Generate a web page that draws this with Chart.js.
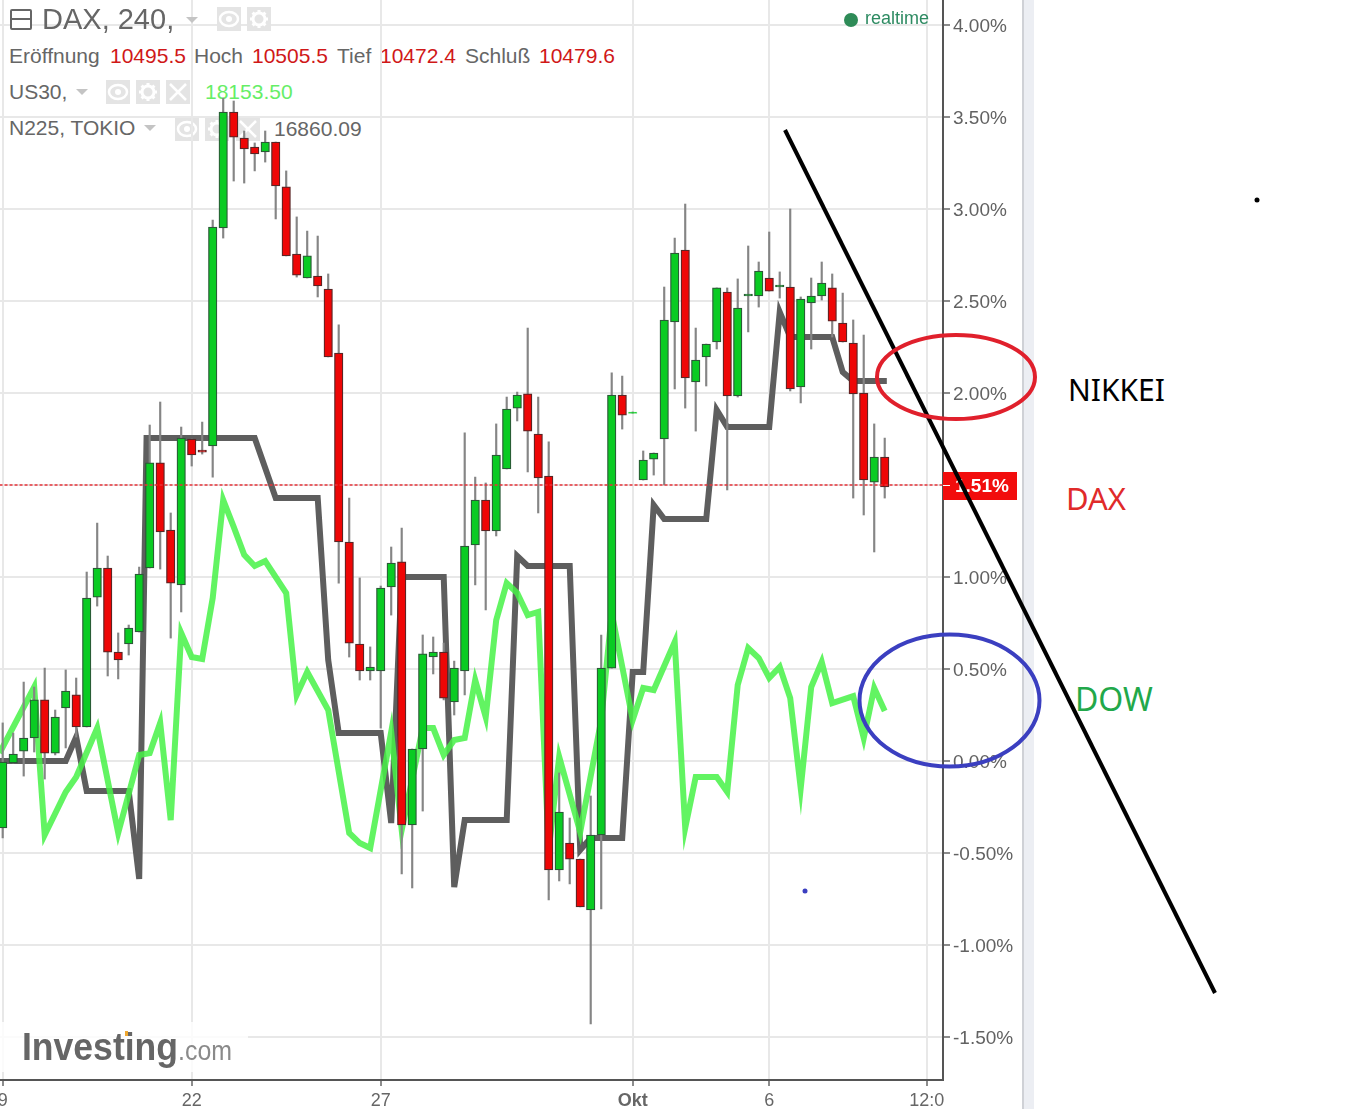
<!DOCTYPE html>
<html>
<head>
<meta charset="utf-8">
<title>DAX, US30, N225</title>
<script src="https://cdn.jsdelivr.net/npm/chart.js@4"></script>
<style>
    body { margin: 0; background: #fff; font-family: "Liberation Sans", Arial, sans-serif; }
    #wrap { position: relative; width: 1357px; height: 1109px; overflow: hidden; }
    #chart { position: absolute; left: 0; top: 0; z-index: 1; }
    #top { position: absolute; left: 0; top: 0; z-index: 2; }
    .t { position: absolute; white-space: nowrap; line-height: 1; color: #666; font-size: 21px; }
    .red { color: #d01818; }
    .note { font-family: "Noto Sans", sans-serif; font-size: 31px; }
    .tile { position: absolute; width: 24px; height: 24px; background: #e4e4e4; }
    .arrow { position: absolute; width: 0; height: 0; border: 6px solid transparent; border-top: 6px solid #c4c4c4; border-bottom: 0; }
</style>
</head>
<body>
<div id="wrap">
    <div id="header"></div>
    <canvas id="chart" width="1357" height="1109"></canvas>
    <div id="top"></div>
</div>
<script>
// DAX 240 candles, values in percent
const opens = [-0.364,-0.011,0.054,0.125,0.332,0.043,0.288,0.359,0.185,0.891,1.049,0.592,0.636,0.701,1.049,1.620,1.255,0.957,1.750,1.690,1.712,2.897,3.527,3.386,3.337,3.310,3.364,3.120,2.755,2.625,2.636,2.565,2.217,1.190,0.636,0.489,0.489,0.946,1.082,-0.348,0.065,0.565,0.592,0.321,0.489,1.174,1.418,1.250,1.587,1.918,1.995,1.777,1.549,-0.592,-0.446,-0.533,-0.810,-0.402,0.505,1.989,1.889,1.527,1.641,1.750,2.386,2.777,2.060,2.196,2.277,2.549,1.984,2.527,2.527,2.625,2.576,2.576,2.033,2.489,2.527,2.571,2.380,2.272,2.000,1.516,1.652];
const highs = [0.207,0.152,0.429,0.402,0.505,0.277,0.495,0.451,1.027,1.293,1.114,0.696,0.739,1.054,1.826,1.951,1.348,1.815,1.750,1.842,2.940,3.603,3.587,3.424,3.359,3.424,3.364,3.207,2.957,2.880,2.853,2.647,2.370,1.429,0.995,0.620,0.951,1.163,1.266,0.065,0.685,0.674,0.641,0.543,1.783,1.543,1.511,1.832,1.978,2.005,2.353,1.978,1.734,-0.065,-0.310,-0.533,-0.190,0.685,2.109,2.092,1.897,1.685,1.674,2.576,2.842,3.027,2.353,2.266,2.571,2.571,2.620,2.799,2.712,2.875,2.658,3.000,2.522,2.625,2.712,2.647,2.543,2.397,2.315,1.832,1.755];
const lows = [-0.418,-0.011,-0.082,0.049,-0.098,0.033,0.071,0.130,0.185,0.842,0.462,0.446,0.576,0.701,1.049,1.043,0.668,0.810,1.603,1.668,1.543,2.842,3.152,3.141,3.207,3.255,2.946,2.745,2.630,2.625,2.522,2.196,0.967,0.565,0.440,0.440,0.179,0.793,-0.614,-0.690,-0.272,0.473,0.332,0.250,0.359,0.957,0.821,1.223,1.587,1.848,1.571,1.348,-0.755,-0.652,-0.668,-0.793,-1.429,-0.804,0.505,1.804,1.889,1.527,1.554,1.500,2.022,1.918,1.793,2.038,2.239,1.473,1.978,2.332,2.467,2.554,2.516,2.011,1.946,2.239,2.505,2.304,2.277,1.429,1.337,1.136,1.429];
const closes = [0,0.038,0.125,0.332,0.043,0.239,0.380,0.185,0.886,1.049,0.592,0.549,0.723,1.016,1.620,1.245,0.967,1.755,1.663,1.679,2.902,3.527,3.391,3.326,3.299,3.364,3.125,2.745,2.641,2.745,2.582,2.196,1.190,0.641,0.489,0.511,0.940,1.076,-0.348,0.065,0.582,0.592,0.342,0.505,1.168,1.418,1.250,1.663,1.913,1.989,1.793,1.538,-0.592,-0.277,-0.533,-0.793,-0.402,0.505,1.989,1.880,1.897,1.636,1.674,2.397,2.761,2.082,2.179,2.266,2.571,1.984,2.462,2.538,2.663,2.554,2.587,2.022,2.511,2.527,2.598,2.391,2.277,1.995,1.527,1.652,1.489];

// Nikkei and Dow lines, one entry per turning point, x is the candle index
const nikkeiIdx = [-0.3,6,7,8,12,13,13.7,24,26,30,31,32,36,37,38,42,43,44,48,49,50,54,55,56,59,60,61,62,63,67,68,69,73,74,75,79,80,81,84.2];
const nikkeiPct = [0,0,0.130,-0.163,-0.163,-0.641,1.755,1.755,1.429,1.429,0.549,0.152,0.152,-0.337,1.000,1.000,-0.685,-0.321,-0.321,1.114,1.060,1.060,-0.484,-0.418,-0.418,0.484,0.484,1.391,1.315,1.315,1.908,1.815,1.815,2.440,2.304,2.304,2.114,2.065,2.065];
const dowIdx = [-0.3,3,4,6,7,9,11,13,14,15,16,17,18,19,20,21,22,23,24,25,27,28,29,31,33,34,35,37,38,40,41,42,43,44,45,46,47,48,49,50,51,52,53,55,57,58,60,61,62,64,65,66,68,69,70,71,72,73,74,75,76,77,78,79,81,82,83,84];
const dowPct = [0.043,0.402,-0.402,-0.168,-0.087,0.179,-0.391,0.033,0.043,0.207,-0.321,0.696,0.565,0.554,0.886,1.418,1.272,1.120,1.060,1.087,0.913,0.359,0.484,0.277,-0.391,-0.446,-0.473,0.158,-0.375,0.179,0.179,0.033,0.114,0.125,0.440,0.239,0.766,0.967,0.913,0.793,0.810,-0.484,0.022,-0.386,0.223,0.804,0.223,0.397,0.386,0.647,-0.364,-0.087,-0.087,-0.168,0.413,0.614,0.560,0.451,0.511,0.342,-0.147,0.402,0.538,0.315,0.353,0.125,0.397,0.272];

// x axis
const xTickIdx = [0, 18, 36, 60, 73, 88];
const xTickLabels = ['9', '22', '27', 'Okt', '6', '12:0'];

const lastLevel = 1.5;
const lastLabel = '1.51%';

const upFill = '#0acb23', upEdge = '#2a5a36';
const downFill = '#ee0606', downEdge = '#5a2525';
const oddTick = 60; // the little light green dash, no edge on it

function addText(text, x, cy, size, color, cls, layer) {
    const el = document.createElement('div');
    el.className = 't ' + (cls || '');
    el.textContent = text;
    el.style.left = x + 'px';
    el.style.top = (cy - size / 2) + 'px';
    el.style.fontSize = size + 'px';
    if (color) el.style.color = color;
    document.getElementById(layer || 'header').appendChild(el);
}

const icons = {
    eye: '<svg width="24" height="24"><ellipse cx="12" cy="12" rx="9" ry="7" fill="none" stroke="#fff" stroke-width="2.5"/><circle cx="12" cy="12" r="3" fill="#fff"/></svg>',
    gear: '<svg width="24" height="24"><circle cx="12" cy="12" r="6" fill="none" stroke="#fff" stroke-width="3"/><path d="M12 3v4M12 17v4M3 12h4M17 12h4M5.6 5.6l3 3M15.4 15.4l3 3M5.6 18.4l3-3M15.4 8.6l3-3" stroke="#fff" stroke-width="3"/></svg>',
    close: '<svg width="24" height="24"><path d="M4 4L20 20M20 4L4 20" stroke="#fff" stroke-width="2.5"/></svg>'
};

function addTile(kind, x, y, layer) {
    const el = document.createElement('div');
    el.className = 'tile';
    el.style.left = x + 'px';
    el.style.top = y + 'px';
    el.innerHTML = icons[kind];
    document.getElementById(layer || 'header').appendChild(el);
}

function addArrow(x, y, layer) {
    const el = document.createElement('div');
    el.className = 'arrow';
    el.style.left = x + 'px';
    el.style.top = y + 'px';
    document.getElementById(layer || 'header').appendChild(el);
}

function buildHeader() {
    // first row sits over the grid, the rest under the candles
    const box = document.createElement('div');
    box.style.cssText = 'position:absolute;left:10px;top:9px;width:18px;height:17px;background:#fff;border:2px solid #666;border-radius:2px;';
    box.innerHTML = '<div style="margin-top:7px;height:2px;background:#666"></div>';
    document.getElementById('top').appendChild(box);

    addText('DAX, 240,', 42, 19, 29, null, null, 'top');
    addArrow(186, 17, 'top');
    addTile('eye', 217, 7, 'top');
    addTile('gear', 247, 7, 'top');

    addText('Eröffnung', 9, 55, 21);
    addText('10495.5', 110, 55, 21, null, 'red');
    addText('Hoch', 194, 55, 21);
    addText('10505.5', 252, 55, 21, null, 'red');
    addText('Tief', 337, 55, 21);
    addText('10472.4', 380, 55, 21, null, 'red');
    addText('Schluß', 465, 55, 21);
    addText('10479.6', 539, 55, 21, null, 'red');

    addText('US30,', 9, 91, 21);
    addArrow(76, 89);
    addTile('eye', 106, 80);
    addTile('gear', 136, 80);
    addTile('close', 166, 80);
    addText('18153.50', 205, 91, 21, '#66ee66');

    addText('N225, TOKIO', 9, 127, 21);
    addArrow(144, 125);
    addTile('eye', 175, 117);
    addTile('gear', 205, 117);
    addTile('close', 236, 117);
    addText('16860.09', 274, 128, 21);

    // realtime marker
    const dot = document.createElement('div');
    dot.style.cssText = 'position:absolute;left:844px;top:13px;width:14px;height:14px;border-radius:50%;background:#2e8b57;';
    document.getElementById('top').appendChild(dot);
    addText('realtime', 865, 18, 18, '#2e8b62', null, 'top');

    // hand written names on the right
    addText('NIKKEI', 1068, 390, 30, '#000', 'note');
    addText('DAX', 1066, 498, 31, '#e02a2a', 'note');
    addText('DOW', 1075, 699, 32, '#22a84a', 'note');
}

// scrollbar strip, logo and the things drawn by hand over the chart
const extras = {
    id: 'extras',
    beforeDraw(chart) {
        const c = chart.ctx;
        c.fillStyle = '#eceef3';
        c.fillRect(1023, 0, 11, 1109);
        c.fillStyle = '#cfd1d6';
        c.fillRect(1022, 0, 2, 1109);
    },
    beforeDatasetsDraw(chart) {
        const c = chart.ctx;
        c.save();
        c.fillStyle = 'rgba(255,255,255,0.8)';
        c.fillRect(0, 1022, 248, 50);
        c.textBaseline = 'alphabetic';
        c.fillStyle = '#666';
        c.font = 'bold 38px "Liberation Sans"';
        c.fillText('Investing', 22, 1060, 156);
        c.fillStyle = '#8a8a8a';
        c.font = '28px "Liberation Sans"';
        c.fillText('.com', 178, 1060, 54);
        c.fillStyle = '#f0a830';
        c.fillRect(125, 1031, 3, 5);
        c.restore();
    },
    afterDraw(chart) {
        const c = chart.ctx;
        const y = chart.scales.y.getPixelForValue(lastLevel);
        c.save();
        // last price tag
        c.fillStyle = '#f20d0d';
        c.fillRect(943, 472, 74, 28);
        c.fillStyle = '#fff';
        c.fillRect(943, y, 7, 1);
        c.font = 'bold 19px "Liberation Sans"';
        c.textBaseline = 'middle';
        c.fillText(lastLabel, 955, 487);
        // drawn on the screenshot afterwards
        c.lineWidth = 4;
        c.strokeStyle = '#000';
        c.beginPath();
        c.moveTo(785, 130);
        c.lineTo(1215, 993);
        c.stroke();
        c.strokeStyle = '#e0202c';
        c.beginPath();
        c.ellipse(956, 377, 79, 42, 0, 0, Math.PI * 2);
        c.stroke();
        c.strokeStyle = '#3b3fc0';
        c.beginPath();
        c.ellipse(949.5, 700.5, 90, 66, 0, 0, Math.PI * 2);
        c.stroke();
        c.fillStyle = '#3b3fc0';
        c.beginPath();
        c.arc(805, 891, 2.5, 0, Math.PI * 2);
        c.fill();
        c.fillStyle = '#000';
        c.beginPath();
        c.arc(1257, 200, 2.5, 0, Math.PI * 2);
        c.fill();
        c.restore();
    }
};

function createChart() {
    const wickData = opens.map((o, i) => ({ x: i, y: [lows[i], highs[i]] }));
    const bodyData = opens.map((o, i) => ({ x: i, y: [o, closes[i]] }));
    const isUp = opens.map((o, i) => closes[i] >= o);

    new Chart(document.getElementById('chart').getContext('2d'), {
        type: 'bar',
        data: {
            datasets: [
                {
                    type: 'line',
                    label: 'N225',
                    data: nikkeiIdx.map((x, i) => ({ x: x, y: nikkeiPct[i] })),
                    borderColor: '#5e5e5e',
                    borderWidth: 6,
                    borderJoinStyle: 'miter',
                    pointRadius: 0,
                    order: 5
                },
                {
                    type: 'line',
                    label: 'US30',
                    data: dowIdx.map((x, i) => ({ x: x, y: dowPct[i] })),
                    borderColor: 'rgba(70,242,70,0.85)',
                    borderWidth: 6,
                    borderJoinStyle: 'miter',
                    pointRadius: 0,
                    order: 4
                },
                {
                    label: 'wicks',
                    data: wickData,
                    backgroundColor: '#858585',
                    barThickness: 1.5,
                    grouped: false,
                    order: 2
                },
                {
                    label: 'DAX',
                    data: bodyData,
                    backgroundColor: isUp.map(u => u ? upFill : downFill),
                    borderColor: isUp.map((u, i) => i === oddTick ? '#55dd66' : (u ? upEdge : downEdge)),
                    borderWidth: 1.25,
                    borderSkipped: false,
                    barThickness: 8.5,
                    grouped: false,
                    order: 1
                },
                {
                    type: 'line',
                    label: 'last',
                    data: [{ x: -0.3, y: lastLevel }, { x: 90, y: lastLevel }],
                    borderColor: '#e8333a',
                    borderWidth: 1.5,
                    borderDash: [3, 2],
                    pointRadius: 0,
                    order: 0
                }
            ]
        },
        options: {
            responsive: false,
            animation: false,
            plugins: { legend: { display: false }, tooltip: { enabled: false } },
            layout: { padding: 0 },
            scales: {
                x: {
                    type: 'linear',
                    offset: false,
                    min: -0.257,
                    max: 89.55,
                    afterBuildTicks: scale => { scale.ticks = xTickIdx.map(v => ({ value: v })); },
                    afterFit: scale => { scale.height = 29; scale.paddingLeft = 0; scale.paddingRight = 0; },
                    grid: { offset: false, color: '#e8e8e8', lineWidth: 2, tickColor: '#666', tickLength: 6, tickWidth: 1.5 },
                    border: { color: '#555', width: 2 },
                    ticks: {
                        autoSkip: false,
                        maxRotation: 0,
                        padding: 4,
                        color: '#666',
                        font: ctx => ({ family: '"Liberation Sans"', size: 18, weight: ctx.tick && ctx.tick.value === 60 ? 'bold' : 'normal' }),
                        callback: value => xTickLabels[xTickIdx.indexOf(value)]
                    }
                },
                y: {
                    position: 'right',
                    min: -1.7337,
                    max: 4.1359,
                    afterFit: scale => { scale.width = 414; scale.paddingTop = 0; scale.paddingBottom = 0; },
                    grid: { color: '#e8e8e8', lineWidth: 2, tickColor: '#666', tickLength: 7, tickWidth: 1.5 },
                    border: { color: '#555', width: 2 },
                    ticks: {
                        stepSize: 0.5,
                        includeBounds: false,
                        padding: 3,
                        labelOffset: 2,
                        color: '#626262',
                        font: { family: '"Liberation Sans"', size: 19 },
                        callback: value => value.toFixed(2) + '%'
                    }
                }
            }
        },
        plugins: [extras]
    });
}

buildHeader();
createChart();
</script>
</body>
</html>
